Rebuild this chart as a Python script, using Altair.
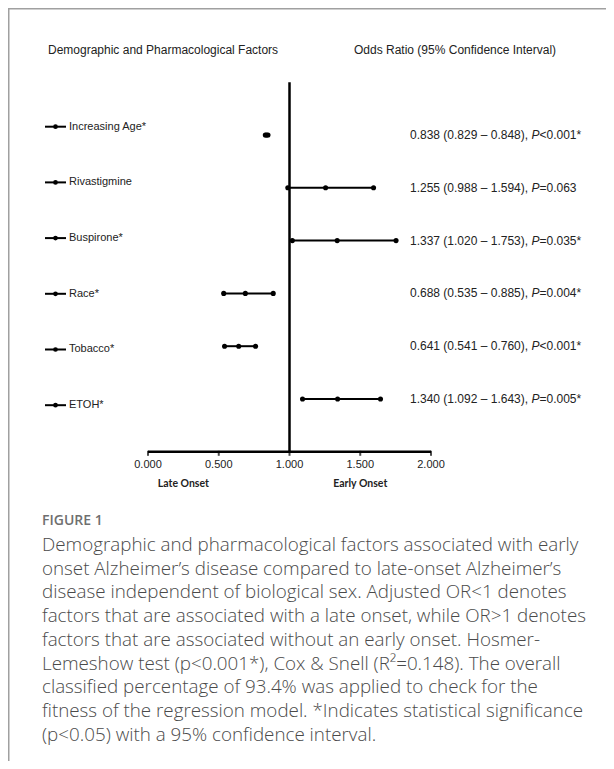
import altair as alt
import pandas as pd

# ---------------- data ----------------
factors = ["Increasing Age*", "Rivastigmine", "Buspirone*", "Race*", "Tobacco*", "ETOH*"]
odds = [0.838, 1.255, 1.337, 0.688, 0.641, 1.340]
lower = [0.829, 0.988, 1.020, 0.535, 0.541, 1.092]
upper = [0.848, 1.594, 1.753, 0.885, 0.760, 1.643]
p_text = ["<0.001*", "=0.063", "=0.035*", "=0.004*", "<0.001*", "=0.005*"]

tick_values = [0.0, 0.5, 1.0, 1.5, 2.0]
tick_labels = ["0.000", "0.500", "1.000", "1.500", "2.000"]
side_labels = ["Late Onset", "Early Onset"]
side_values = [0.25, 1.5]

header_left = "Demographic and Pharmacological Factors"
header_right = "Odds Ratio (95% Confidence Interval)"
figure_label = "FIGURE 1"
caption_lines = [
    "Demographic and pharmacological factors associated with early",
    "onset Alzheimer\u2019s disease compared to late-onset Alzheimer\u2019s",
    "disease independent of biological sex. Adjusted OR<1 denotes",
    "factors that are associated with a late onset, while OR>1 denotes",
    "factors that are associated without an early onset. Hosmer-",
    "Lemeshow test (p<0.001*), Cox & Snell (R\u00b2=0.148). The overall",
    "classified percentage of 93.4% was applied to check for the",
    "fitness of the regression model. *Indicates statistical significance",
    "(p<0.05) with a 95% confidence interval.",
]

W, H = 598, 753
FONT = "Liberation Sans"
INK = "#222222"

n = len(factors)
rows = pd.DataFrame({
    "row": list(range(n)),
    "factor": factors,
    "or": odds,
    "lo": lower,
    "hi": upper,
    "prefix": [f"{o:.3f} ({l:.3f} \u2013 {u:.3f}), " for o, l, u in zip(odds, lower, upper)],
    "p": p_text,
})
points = pd.concat([
    rows[["row", "lo"]].rename(columns={"lo": "v"}),
    rows[["row", "or"]].rename(columns={"or": "v"}),
    rows[["row", "hi"]].rename(columns={"hi": "v"}),
])
ref_df = pd.DataFrame({"x": [1.0], "top": [-1], "bottom": [n]})
axis_df = pd.DataFrame({"x0": [tick_values[0]], "x1": [tick_values[-1]], "y": [n]})
ticks_df = pd.DataFrame({"v": tick_values, "label": tick_labels, "y": [n] * len(tick_values)})
side_df = pd.DataFrame({"v": side_values, "label": side_labels, "y": [n] * 2})
cap_df = pd.DataFrame({"k": list(range(len(caption_lines))), "line": caption_lines})
fig_df = pd.DataFrame({"k": [-1], "line": [figure_label]})
head_df = pd.DataFrame({"t": [header_left, header_right], "px": [40, 346]})

# ---------------- scales ----------------
x_scale = alt.Scale(domain=[-0.9894, 3.2367], nice=False, zero=False)
row_scale = alt.Scale(domain=[-2.4053, 11.856], reverse=True, nice=False, zero=False)
lab_scale = alt.Scale(domain=[-2.131, 11.388], reverse=True, nice=False, zero=False)
cap_scale = alt.Scale(domain=[-22.61, 9.0947], reverse=True, nice=False, zero=False)

X = lambda f: alt.X(f, type="quantitative", scale=x_scale, axis=None)
Y = lambda f: alt.Y(f, type="quantitative", scale=row_scale, axis=None)

# frame lines
frame_top = alt.Chart(pd.DataFrame({"a": [0]})).mark_rule(color="#a0a0a0", strokeWidth=1.5).encode(
    x=alt.value(0), x2=alt.value(W), y=alt.value(0.75))
frame_left = alt.Chart(pd.DataFrame({"a": [0]})).mark_rule(color="#a0a0a0", strokeWidth=1.5).encode(
    x=alt.value(0.75), y=alt.value(0), y2=alt.value(H))

# headers
headers = alt.Chart(head_df).mark_text(font=FONT, fontSize=12, color=INK, align="left",
                                       baseline="middle").encode(
    x=alt.X("px:Q", scale=None), y=alt.value(42), text="t:N")

# reference line at OR = 1
ref = alt.Chart(ref_df).mark_rule(color="black", strokeWidth=2.5).encode(
    x=X("x"), y=Y("top"), y2="bottom")

# x axis
axis_line = alt.Chart(axis_df).mark_rule(color="black", strokeWidth=2.5).encode(
    x=X("x0"), x2="x1", y=Y("y"))
axis_ticks = alt.Chart(ticks_df).mark_tick(color="black", thickness=2, size=5, yOffset=1.5).encode(
    x=X("v"), y=Y("y"))
axis_labels = alt.Chart(ticks_df).mark_text(font=FONT, fontSize=11, color=INK, baseline="middle",
                                            dy=13).encode(x=X("v"), y=Y("y"), text="label:N")
side_text = alt.Chart(side_df).mark_text(font="Lato", fontSize=10.5, fontWeight="bold", color=INK,
                                         baseline="middle", dy=32).encode(
    x=X("v"), y=Y("y"), text="label:N")

# CI lines and points
ci = alt.Chart(rows).mark_rule(color="black", strokeWidth=2).encode(x=X("lo"), x2="hi", y=Y("row"))
dots = alt.Chart(points).mark_point(filled=True, color="black", size=26, opacity=1).encode(
    x=X("v"), y=Y("row"))

# right-hand text
pre = alt.Chart(rows).mark_text(font=FONT, fontSize=12, color=INK, align="left", baseline="middle").encode(
    x=alt.value(402), y=Y("row"), text="prefix:N")
pit = alt.Chart(rows).mark_text(font=FONT, fontSize=12, color=INK, align="left", baseline="middle",
                                fontStyle="italic").encode(
    x=alt.value(523.5), y=Y("row"), text=alt.value("P"))
suf = alt.Chart(rows).mark_text(font=FONT, fontSize=12, color=INK, align="left", baseline="middle").encode(
    x=alt.value(531.5), y=Y("row"), text="p:N")

# left labels with line-dot symbols
LY = alt.Y("row:Q", scale=lab_scale, axis=None)
sym_line = alt.Chart(rows).mark_rule(color="black", strokeWidth=2).encode(
    x=alt.value(37), x2=alt.value(58), y=LY)
sym_dot = alt.Chart(rows).mark_point(filled=True, color="black", size=22, opacity=1).encode(
    x=alt.value(47.5), y=LY)
lab_text = alt.Chart(rows).mark_text(font=FONT, fontSize=11, color=INK, align="left",
                                     baseline="middle").encode(
    x=alt.value(61), y=LY, text="factor:N")

# caption
CY = alt.Y("k:Q", scale=cap_scale, axis=None)
fig_text = alt.Chart(fig_df).mark_text(font="Open Sans", fontSize=14, fontWeight=600, color="#6f6f6f",
                                       align="left", baseline="middle").encode(
    x=alt.value(34), y=CY, text="line:N")
cap_text = alt.Chart(cap_df).mark_text(font="Open Sans", fontSize=18.8, fontWeight=300, color="#4a4a4a",
                                       align="left", baseline="middle").encode(
    x=alt.value(34), y=CY, text="line:N")

chart = alt.layer(
    frame_top, frame_left, headers, ref, axis_line, axis_ticks, axis_labels, side_text,
    ci, dots, pre, pit, suf, sym_line, sym_dot, lab_text, fig_text, cap_text,
).resolve_scale(y="independent").properties(
    width=W, height=H, padding=0, autosize=alt.AutoSizeParams(type="none"),
    background="white",
).configure_view(strokeWidth=0)

chart.save("out.html", embed_options={"renderer": "svg", "actions": False})
